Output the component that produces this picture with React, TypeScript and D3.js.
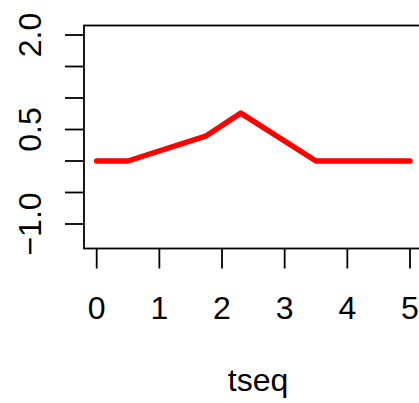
import React, { useRef, useEffect } from "react";
import * as d3 from "d3";

const tseq = [0, 0.5, 1.75, 2.3, 3.5, 5];
const values = [0, 0, 0.4, 0.76, 0, 0];
const xTicks = [0, 1, 2, 3, 4, 5];
const yTicks = [-1.0, -0.5, 0, 0.5, 1.0, 1.5, 2.0];
const yLabels = ["-1.0", "0.5", "2.0"];

const App = () => {
  const svgRef = useRef<SVGSVGElement>(null);

  useEffect(() => {
    const svg = d3.select(svgRef.current);
    svg.selectAll("*").remove();

    const font = "Liberation Sans, Arial, sans-serif";
    const fs = 32;

    // pixel mapping
    const x = d3.scaleLinear().domain([0, 5]).range([96.7, 410]);
    const y = d3.scaleLinear().domain([0, 2]).range([161, 35]);

    const box = { left: 84, top: 25.5, right: 432, bottom: 248.5 };

    svg
      .append("rect")
      .attr("x", box.left)
      .attr("y", box.top)
      .attr("width", box.right - box.left)
      .attr("height", box.bottom - box.top)
      .attr("fill", "none")
      .attr("stroke", "black")
      .attr("stroke-width", 1.8);

    const line = d3
      .line<number>()
      .x((d, i) => x(tseq[i]))
      .y((d) => y(d));

    svg
      .append("path")
      .datum(values)
      .attr("fill", "none")
      .attr("stroke", "#ff0000")
      .attr("stroke-width", 5.5)
      .attr("stroke-linecap", "round")
      .attr("stroke-linejoin", "round")
      .attr("d", line);

    // x axis
    const gx = svg.append("g");
    gx.selectAll("line")
      .data(xTicks)
      .join("line")
      .attr("x1", (d) => x(d))
      .attr("x2", (d) => x(d))
      .attr("y1", box.bottom)
      .attr("y2", 268.5)
      .attr("stroke", "black")
      .attr("stroke-width", 1.8);
    gx.selectAll("text")
      .data(xTicks)
      .join("text")
      .attr("x", (d) => x(d))
      .attr("y", 319)
      .attr("text-anchor", "middle")
      .attr("font-family", font)
      .attr("font-size", fs)
      .text((d) => d);

    // y axis
    const gy = svg.append("g");
    gy.selectAll("line")
      .data(yTicks)
      .join("line")
      .attr("x1", 65)
      .attr("x2", box.left)
      .attr("y1", (d) => y(d))
      .attr("y2", (d) => y(d))
      .attr("stroke", "black")
      .attr("stroke-width", 1.8);
    gy.selectAll("text")
      .data(yLabels)
      .join("text")
      .attr("transform", (d) => `translate(41,${y(+d)}) rotate(-90)`)
      .attr("text-anchor", "middle")
      .attr("font-family", font)
      .attr("font-size", fs)
      .text((d) => d.replace("-", "\u2212"));

    svg
      .append("text")
      .attr("x", 258)
      .attr("y", 391)
      .attr("text-anchor", "middle")
      .attr("font-family", font)
      .attr("font-size", fs)
      .text("tseq");
  }, []);

  return (
    <svg
      ref={svgRef}
      width={419}
      height={403}
      style={{ position: "absolute", left: 0, top: 0, background: "white" }}
    ></svg>
  );
};

export default App;
